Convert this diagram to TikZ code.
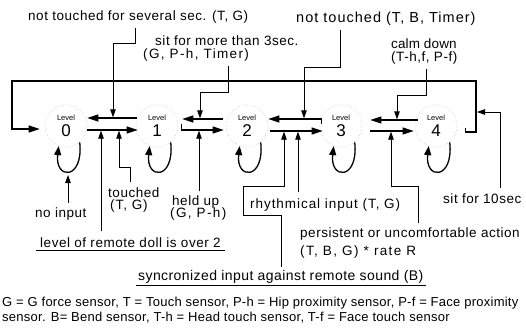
\documentclass[tikz,border=0pt]{standalone}
\usepackage{fontspec}
\setmainfont{Liberation Sans}
\newfontfamily\lblfont{Liberation Sans}
\usetikzlibrary{arrows.meta}
\begin{document}
\begin{tikzpicture}[x=1pt,y=-1pt,
  fs/.style 2 args={font=\lblfont\fontsize{#1}{#1}\selectfont\addfontfeature{LetterSpace=#2}},
  txt/.style={fs={13.5}{4}, inner sep=0pt, anchor=base west},
  leg/.style={fs={13}{2}, inner sep=0pt, anchor=base west},
  lvw/.style={font=\fontsize{7.5}{8}\selectfont, inner sep=0pt},
  lvn/.style={font=\fontsize{17}{18}\selectfont, inner sep=0pt},
  ring/.style={circle, draw=black!20, dotted, line width=0.7pt, minimum size=42pt, inner sep=0pt},
  arr/.style={line width=1.3pt, -{Triangle[length=11pt,width=7pt]}},
  con/.style={line width=0.9pt},
  cona/.style={con, -{Triangle[length=8pt,width=5.5pt]}},
  lp/.style={line width=1.3pt, -{Triangle[length=9pt,width=7pt]}},
]
\useasboundingbox (0,0) rectangle (526,330);

% levels
\foreach \i/\x in {0/66,1/157,2/247,3/341,4/436}{
  \node[ring] (c\i) at (\x,126) {};
  \node[lvw] (w\i) at (\x,118) {Level};
  \node[lvn] (d\i) at (\x,131) {\i};
}
% self loops
\foreach \i in {0,...,4}{
  \draw[lp] (c\i.-50) .. controls +(4,38) and +(-4,34) .. (c\i.-110);
}

% transitions between levels
\draw[arr] ([xshift=1pt,yshift=8pt]c1.west) -- ([yshift=8pt]c0.east);
\draw[arr] ([yshift=-4pt]c0.east) -- ([xshift=2pt,yshift=-4pt]c1.west);

\draw[arr] ([xshift=-3pt,yshift=7pt]c2.west) -- ([xshift=4pt,yshift=7pt]c1.east);
\draw[arr] ([xshift=3pt,yshift=2pt]c1.east) -- ([xshift=3pt,yshift=-4pt]c1.east) -- ([xshift=-2pt,yshift=-4pt]c2.west);

\draw[arr] ([xshift=2pt,yshift=2pt]c3.west) -- ([xshift=2pt,yshift=7pt]c3.west) -- ([yshift=7pt]c2.east);
\draw[arr] ([xshift=2pt,yshift=-5pt]c2.east) -- ([xshift=3pt,yshift=-5pt]c3.west);

\draw[arr] ([xshift=3pt,yshift=6pt]c4.west) -- ([xshift=8pt,yshift=6pt]c3.east);
\draw[arr] ([xshift=8pt,yshift=-5pt]c3.east) -- ([xshift=-1pt,yshift=-5pt]c4.west);

% frame 4 -> 0
\coordinate (fr) at (476,81);
\coordinate (fl) at (12,81);
\draw[arr] ([xshift=8pt,yshift=-2pt]c4.east) -- ++(0,4) -| (fr) -- (fl) |- ([xshift=-5pt,yshift=-3pt]c0.west);

% sit for 10sec
\node[txt, outer ysep=5pt] (s10) at (443,203) {sit for 10sec};
\coordinate (s10b) at (500,112);
\coordinate (s10t) at (477,112);
\draw[cona] (s10.north -| s10b) -- (s10b) -- (s10t);

% top labels
\node[txt, outer ysep=5pt] (n1) at (28,20) {not touched for several sec. (T, G)};
\coordinate (b1) at (135,43);
\coordinate (t01) at (113,117.3);
\draw[cona] (n1.south -| b1) -- (b1) -| (t01);

\node[txt] (n2a) at (155,45) {sit for more than 3sec.};
\node[txt, fs={13.5}{10}, outer ysep=5pt] (n2b) at (143,58) {(G, P-h, Timer)};
\coordinate (b2) at (228,92);
\coordinate (t12) at (200,118.3);
\draw[cona] (n2b.south -| b2) -- (b2) -| (t12);

\node[txt, fs={14.5}{7}, outer ysep=5pt] (n3) at (296,22) {not touched (T, B, Timer)};
\coordinate (b3) at (340,67);
\coordinate (t23) at (304,118.3);
\draw[cona] (n3.south -| b3) -- (b3) -| (t23);

\node[txt, fs={13.5}{1}] (n4a) at (391,48) {calm down};
\node[txt, outer ysep=5pt] (n4b) at (391,61) {(T-h,f, P-f)};
\coordinate (b4) at (426,95);
\coordinate (t34) at (397,119.3);
\draw[cona] (n4b.south -| b4) -- (b4) -| (t34);

% bottom labels
\node[txt, outer ysep=4pt] (ni) at (35,217) {no input};
\coordinate (lb0) at (68,175);
\draw[cona] (ni.north -| lb0) -- (lb0);

\node[txt, outer ysep=5pt] (toa) at (108,197) {touched};
\node[txt, fs={13.5}{7}] (tob) at (110,209) {(T, G)};
\coordinate (bto) at (130,167);
\coordinate (tto) at (119,130.7);
\draw[cona] (toa.north -| bto) -- (bto) -| (tto);

\node[txt, outer ysep=4pt] (hua) at (172,205) {held up};
\node[txt, fs={13.5}{10}] (hub) at (170,217) {(G, P-h)};
\coordinate (thu) at (199,130.7);
\draw[cona] (hua.north -| thu) -- (thu);

\node[txt, fs={13.5}{7}, outer ysep=6pt] (rh) at (250,208) {rhythmical input (T, G)};
\coordinate (trh) at (298,131.7);
\draw[cona] (rh.north -| trh) -- (trh);

\node[txt, fs={14}{3}, outer ysep=3pt] (sy) at (138,280) {syncronized input against remote sound (B)};
\draw[con] ([xshift=-2pt,yshift=-5pt]sy.base west) -- ([xshift=2pt,yshift=-5pt]sy.base east);
\coordinate (k1) at (281,215);
\coordinate (k2) at (243,215);
\coordinate (k3) at (243,186);
\coordinate (k4) at (284,186);
\coordinate (tsy) at (284,131.7);
\draw[cona] (sy.north -| k1) -- (k1) -- (k2) -- (k3) -- (k4) -- (tsy);

\node[txt, outer ysep=4pt] (pa) at (300,237) {persistent or uncomfortable action};
\node[txt, fs={13.5}{10}] (pb) at (300,255) {(T, B, G) * rate R};
\coordinate (bp) at (418,186);
\coordinate (tp) at (391,131.7);
\draw[cona] (pa.north -| bp) -- (bp) -| (tp);

\node[txt, outer ysep=6pt] (lr) at (40,247) {level of remote doll is over 2};
\draw[con] ([xshift=-4pt,yshift=-3pt]lr.base west) -- ([xshift=4pt,yshift=-3pt]lr.base east);
\coordinate (tlr) at (101,130.7);
\draw[cona] (lr.north -| tlr) -- (tlr);

% legend
\node[leg] (g1) at (2,306) {G = G force sensor, T = Touch sensor, P-h = Hip proximity sensor, P-f = Face proximity};
\node[leg] (g2) at (2,321) {sensor. B= Bend sensor, T-h = Head touch sensor, T-f = Face touch sensor};
\end{tikzpicture}
\end{document}
